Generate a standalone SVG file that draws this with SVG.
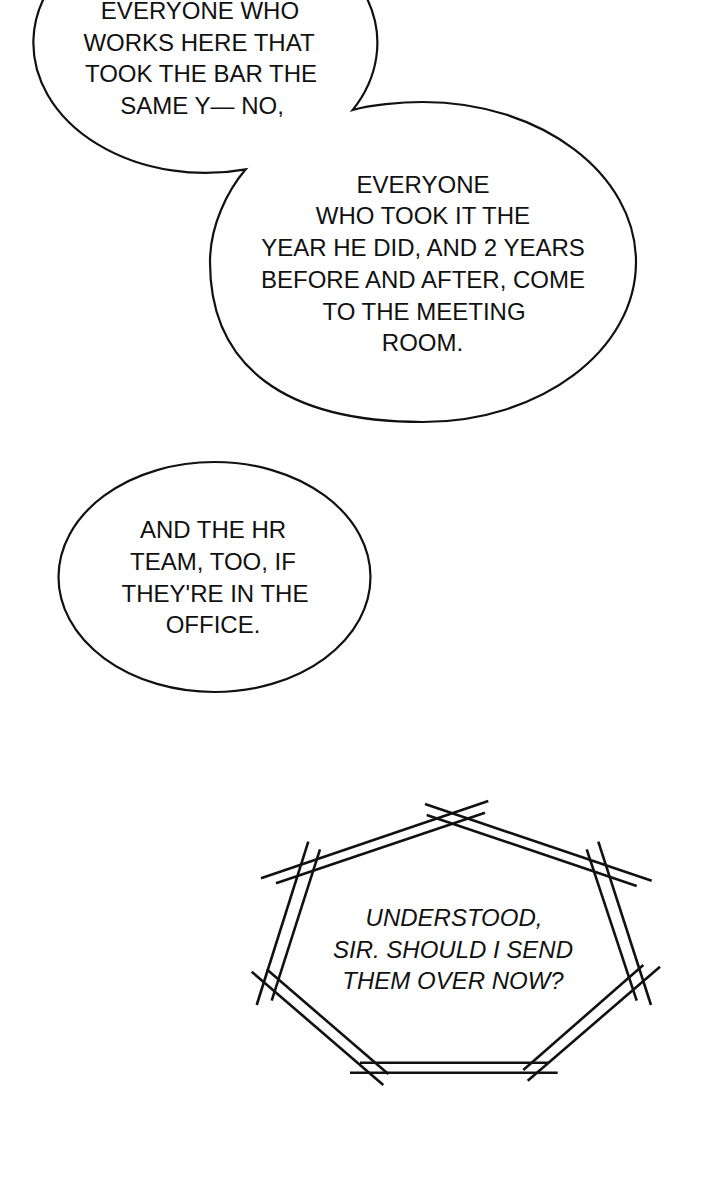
<svg xmlns="http://www.w3.org/2000/svg" width="720" height="1201" viewBox="0 0 720 1201">
<style>
.bub{fill:#fff;stroke:#111;stroke-width:2.2;stroke-linejoin:miter}
.t{font-family:"Liberation Sans",Arial,sans-serif;font-size:24px;fill:#111;text-anchor:middle}
.i{font-style:italic}
.ln{stroke:#111;stroke-width:2.6;stroke-linecap:butt;fill:none}
</style>
<rect width="720" height="1201" fill="#fff"/>
<g id="bubble-top-pair">
<path class="bub" d="M352.7,110 A172,130 0 1 0 245.7,169.3 C228,190 210,225 210,262 C210,366 284.5,422 423,422 C540.6,422 636,350.4 636,262 C636,173.6 540.6,102 423,102 C400,102 370,105 352.7,110 Z"/>
<text class="t" x="200" y="19">EVERYONE WHO</text>
<text class="t" x="199" y="50.5">WORKS HERE THAT</text>
<text class="t" x="201" y="82">TOOK THE BAR THE</text>
<text class="t" x="202" y="114">SAME Y— NO,</text>
<text class="t" x="423" y="192.5">EVERYONE</text>
<text class="t" x="423" y="224">WHO TOOK IT THE</text>
<text class="t" x="423" y="256">YEAR HE DID, AND 2 YEARS</text>
<text class="t" x="423" y="287.5">BEFORE AND AFTER, COME</text>
<text class="t" x="424" y="319.5">TO THE MEETING</text>
<text class="t" x="422.5" y="351">ROOM.</text>
</g>
<g id="bubble-hr">
<ellipse class="bub" cx="214.5" cy="577" rx="156" ry="115"/>
<text class="t" x="213" y="538">AND THE HR</text>
<text class="t" x="213" y="570">TEAM, TOO, IF</text>
<text class="t" x="215" y="602">THEY'RE IN THE</text>
<text class="t" x="213" y="633">OFFICE.</text>
</g>
<g id="bubble-heptagon">
<g class="ln">
<line x1="261" y1="878.3" x2="488.3" y2="801"/>
<line x1="276" y1="883.3" x2="485" y2="812.7"/>
<line x1="425" y1="804" x2="651.7" y2="880.7"/>
<line x1="426.7" y1="815" x2="636.7" y2="886"/>
<line x1="308.3" y1="841.7" x2="256.7" y2="1005"/>
<line x1="320" y1="849.3" x2="271.7" y2="1000.7"/>
<line x1="598.3" y1="841.7" x2="651" y2="1005"/>
<line x1="586.7" y1="849.3" x2="636.7" y2="1000.7"/>
<line x1="251.7" y1="971.7" x2="383.3" y2="1085"/>
<line x1="266.7" y1="969.3" x2="388.3" y2="1074"/>
<line x1="660" y1="966.7" x2="527.7" y2="1080.7"/>
<line x1="643.3" y1="965" x2="523.3" y2="1070"/>
<line x1="360" y1="1062.7" x2="548.3" y2="1062.7"/>
<line x1="350" y1="1072.7" x2="557.7" y2="1072.7"/>
</g>
<text class="t i" x="454" y="926">UNDERSTOOD,</text>
<text class="t i" x="453" y="958">SIR. SHOULD I SEND</text>
<text class="t i" x="453" y="989">THEM OVER NOW?</text>
</g>
</svg>
